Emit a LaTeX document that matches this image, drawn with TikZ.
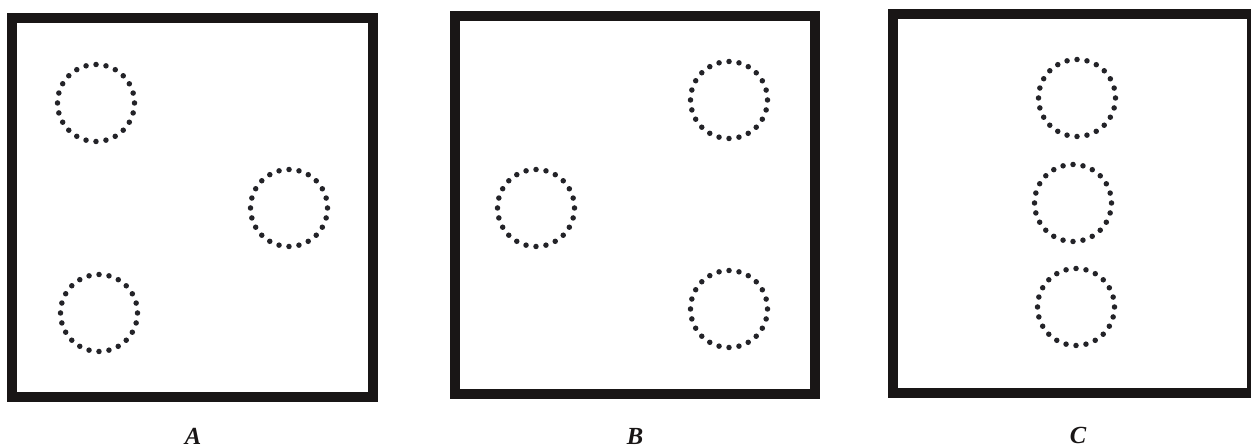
\documentclass[tikz,border=0pt]{standalone}
\usepackage{fontspec}
\setmainfont{Liberation Serif}
\usepackage{tikz}
\definecolor{mydark}{RGB}{25,22,22}
\definecolor{mydot}{RGB}{35,35,40}
\tikzset{
  frame/.style={draw=mydark, line width=0.2cm, line join=miter},
  pore/.style={draw=mydot, line width=0.11cm, line cap=round,
    dash pattern=on 0pt off 0.2016cm},
  panellabel/.style={font=\fontsize{14}{16}\selectfont\bfseries\itshape,
    text=mydark, inner sep=0pt}
}

\begin{document}
\begin{tikzpicture}[x=0.02cm, y=-0.02cm]
  \useasboundingbox (0,0) rectangle (1251,448);

  % Panel A
  \draw[frame] (12,18) rectangle (373,397);
  \draw[pore] (96,103) circle (38.5);
  \draw[pore] (289,208) circle (38.5);
  \draw[pore] (99,313) circle (38.5);
  \node[panellabel] (labA) at (193,436) {A};

  % Panel B
  \draw[frame] (455,16) rectangle (815,394);
  \draw[pore] (729,100) circle (38.5);
  \draw[pore] (536,208) circle (38.5);
  \draw[pore] (729,309) circle (38.5);
  \node[panellabel] (labB) at (635,436) {B};

  % Panel C (right edge runs off the page)
  \draw[frame] (893,14) rectangle (1252,393);
  \draw[pore] (1077,98) circle (38.5);
  \draw[pore] (1073,203) circle (38.5);
  \draw[pore] (1076,307) circle (38.5);
  \node[panellabel] (labC) at (1078,435) {C};
\end{tikzpicture}
\end{document}
